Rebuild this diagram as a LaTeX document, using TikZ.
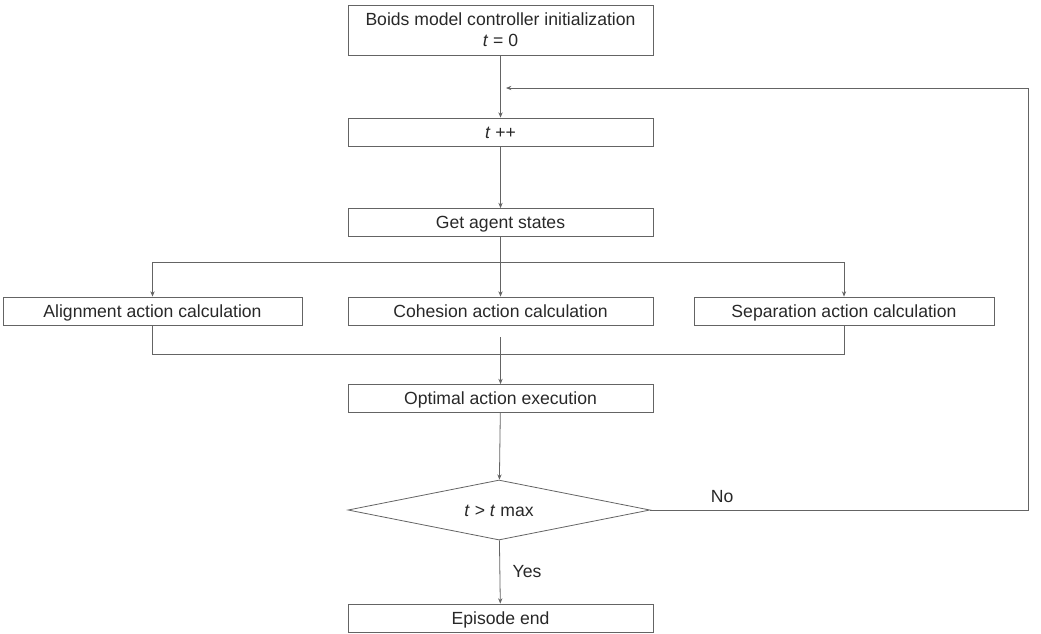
\documentclass[tikz,border=0pt]{standalone}
\usepackage{fontspec}
\setmainfont{Liberation Sans}
\definecolor{boid_line}{RGB}{100, 100, 100}
\definecolor{boid_text}{RGB}{40, 40, 40}
\usetikzlibrary{arrows.meta, positioning, shapes.geometric, calc}

\begin{document}
\begin{tikzpicture}[x=0.75pt, y=-0.75pt,
    every node/.style={font=\fontsize{13.2}{15.5}\selectfont, text=boid_text},
    stepbox/.style={draw=boid_line, line width=0.6pt, inner sep=0pt,
      minimum width=228.75pt, minimum height=21pt, align=center,
      text height=9.5pt, text depth=0pt},
    testbox/.style={draw=boid_line, line width=0.6pt, diamond, aspect=5,
      inner sep=0pt, minimum width=226.5pt, minimum height=45pt,
      text height=9.5pt, text depth=0pt},
    flow/.style={draw=boid_line, line width=0.6pt,
      -{Stealth[length=4pt, width=3.2pt]}},
    link/.style={draw=boid_line, line width=0.6pt}]
  \useasboundingbox (0,0) rectangle (1041,633);
  % boxes
  \node[stepbox, minimum height=37.5pt, text height=, text depth=] (init) at (500.5,30)
    {Boids model controller initialization\\\textit{t} = 0};
  \node[stepbox] (tick) at (500.5,132) {\textit{t} ++};
  \node[stepbox] (states) at (500.5,222.5) {Get agent states};
  \node[stepbox, minimum width=224.25pt] (align) at (152.5,311) {Alignment action calculation};
  \node[stepbox] (cohes) at (500.5,311) {Cohesion action calculation};
  \node[stepbox, minimum width=225pt] (separ) at (844,311) {Separation action calculation};
  \node[stepbox] (optim) at (500.5,398.5) {Optimal action execution};
  \node[testbox] (check) at (499,510) {\textit{t} > \textit{t} max};
  \node[stepbox] (finish) at (500.5,618) {Episode end};
  % helper points
  \coordinate (rejoin) at (506,88);
  \coordinate (loopx) at (1028,0);
  \coordinate (split) at (500.5,262);
  \coordinate (merge) at (500.5,354);
  % connectors
  \draw[flow] (init) -- (tick);
  \draw[flow] (tick) -- (states);
  \draw[flow] (states) -- (cohes);
  \draw[flow] (split) -| (align.north);
  \draw[flow] (split) -| (separ.north);
  \draw[link] (align.south) |- (merge);
  \draw[link] (separ.south) |- (merge);
  \draw[flow, shorten <=9pt] (cohes) -- (optim);
  \draw[flow] (optim) -- (check);
  \draw[flow] (check) -- node[right, pos=0.5, xshift=6pt]{Yes} (finish);
  \draw[flow] (check.east) -- node[above, pos=0.19, yshift=2pt]{No}
    (check.east -| loopx) |- (rejoin);
\end{tikzpicture}
\end{document}
